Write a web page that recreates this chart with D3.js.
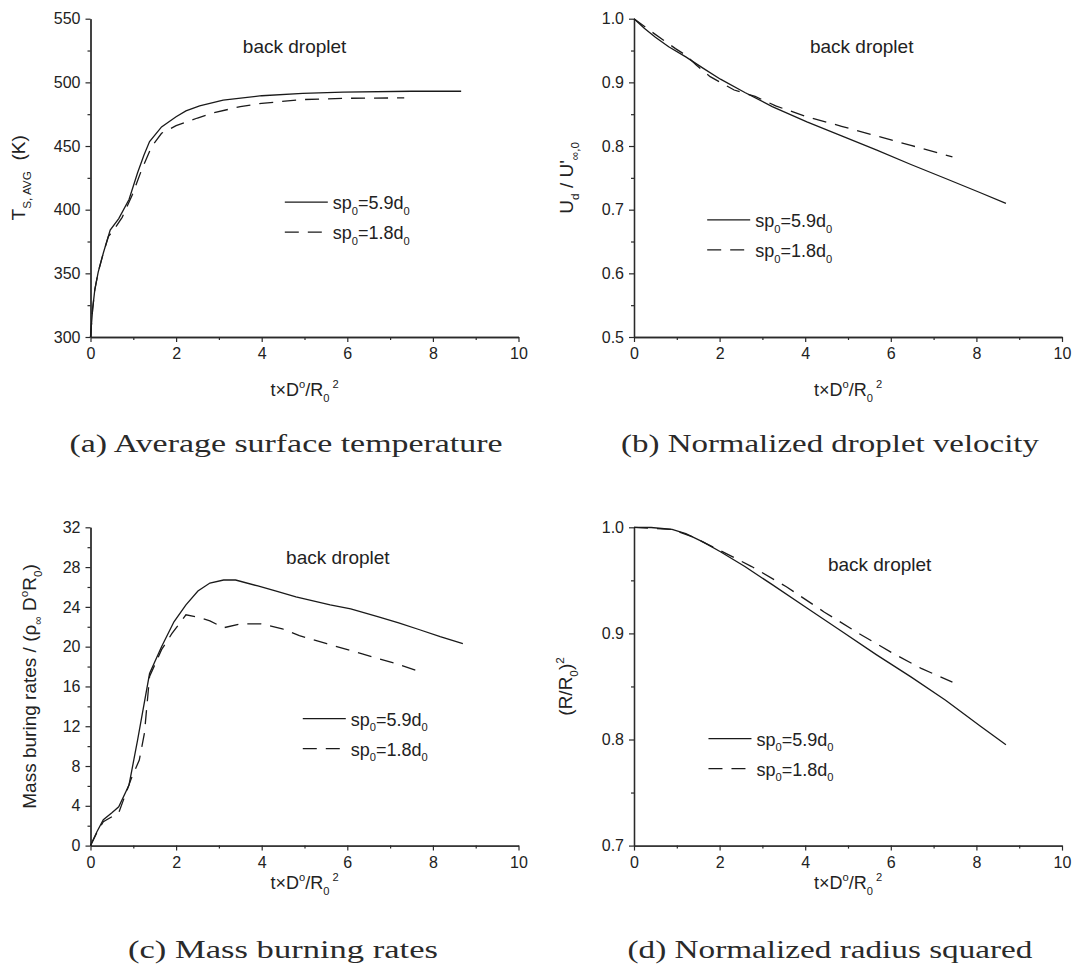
<!DOCTYPE html>
<html>
<head>
<meta charset="utf-8">
<script src="https://cdn.jsdelivr.net/npm/d3@7"></script>
<style>
  body { margin: 0; background: #fff; }
  svg { display: block; }
  text { font-family: "Liberation Sans", Arial, sans-serif; fill: #222; white-space: pre; }
  .caption { font-family: "Liberation Serif", "Times New Roman", serif; fill: #2a2a2a; }
</style>
</head>
<body>
<svg id="chart" width="1073" height="970"></svg>
<script>
// ── data (x = t×D°/R0²) ──
// (a) average surface temperature
const tA_wide = [0, 0.05, 0.1, 0.18, 0.3, 0.46, 0.66, 0.9, 1.1, 1.25, 1.38, 1.66, 2.0, 2.23, 2.55, 3.1, 4.0, 4.96, 5.9, 7.5, 8.66];
const tempA_wide = [300, 322, 337, 351, 366, 384, 393, 408, 429, 443, 453.5, 465, 473, 477.6, 481.5, 486, 489.5, 491.4, 492.3, 493, 493];
const tA_close = [0, 0.05, 0.1, 0.18, 0.3, 0.42, 0.54, 0.74, 0.98, 1.18, 1.42, 1.66, 2.0, 2.5, 2.87, 3.5, 4.0, 4.96, 6.0, 7.33];
const tempA_close = [300, 322, 337, 351, 366, 379, 384, 394, 412, 430, 449, 460, 466, 472, 476, 481, 483.5, 486.5, 487.5, 487.8];

// (b) normalized droplet velocity
const tB_wide = [0, 0.24, 0.5, 0.81, 1.21, 1.62, 2.02, 2.59, 3.23, 4.04, 4.85, 5.66, 6.47, 7.28, 8.08, 8.69];
const velB_wide = [1.0, 0.985, 0.971, 0.956, 0.94, 0.922, 0.905, 0.884, 0.862, 0.838, 0.816, 0.794, 0.771, 0.749, 0.727, 0.71];
const tB_close = [0, 0.4, 0.97, 1.2, 1.46, 1.78, 2.34, 2.83, 3.31, 4.04, 4.85, 5.66, 6.47, 7.44];
const velB_close = [1.0, 0.98, 0.953, 0.943, 0.927, 0.909, 0.888, 0.878, 0.863, 0.846, 0.831, 0.816, 0.801, 0.783];

// (c) mass burning rates
const tC_wide = [0, 0.15, 0.3, 0.5, 0.66, 0.9, 1.1, 1.38, 1.66, 1.95, 2.23, 2.51, 2.79, 3.11, 3.39, 3.91, 4.32, 4.8, 5.6, 6.08, 6.73, 7.2, 7.69, 8.17, 8.7];
const massC_wide = [0, 1.4, 2.6, 3.3, 3.9, 6.1, 10.6, 17.3, 20, 22.5, 24.2, 25.6, 26.4, 26.7, 26.7, 26.1, 25.6, 25, 24.2, 23.8, 23, 22.4, 21.7, 21, 20.3];
const tC_close = [0, 0.15, 0.3, 0.5, 0.66, 0.94, 1.14, 1.26, 1.38, 1.66, 1.9, 2.23, 2.47, 2.79, 3.11, 3.51, 3.99, 4.48, 4.88, 5.52, 6.33, 7.13, 7.61];
const massC_close = [0, 1.3, 2.4, 2.9, 3.3, 6.6, 8.6, 11.3, 17, 19.7, 21.3, 23.2, 23, 22.6, 21.9, 22.3, 22.3, 21.8, 21.1, 20.3, 19.3, 18.3, 17.6];

// (d) normalized radius squared
const tD_wide = [0, 0.4, 0.89, 1.21, 1.62, 2.02, 2.59, 3.23, 4.04, 4.85, 5.66, 6.47, 7.28, 8.08, 8.69];
const radD_wide = [1.0, 0.9998, 0.998, 0.994, 0.986, 0.977, 0.963, 0.946, 0.924, 0.902, 0.88, 0.859, 0.837, 0.813, 0.795];
const tD_close = [0, 0.89, 1.37, 2.02, 2.75, 3.56, 4.45, 5.25, 6.06, 6.71, 7.44];
const radD_close = [1.0, 0.998, 0.991, 0.978, 0.963, 0.944, 0.92, 0.9, 0.881, 0.867, 0.854];

const xMajorTicks = [0, 2, 4, 6, 8, 10];
const xMinorTicks = [1, 3, 5, 7, 9];
const seriesNames = ["5.9", "1.8"];
const annotation = "back droplet";
const captions = ["(a) Average surface temperature", "(b) Normalized droplet velocity",
                  "(c) Mass burning rates", "(d) Normalized radius squared"];

// ── layout ──
const plotW = 428, plotH = 318.3;
const svg = d3.select("#chart");

// text with sub/superscripts: parts = [text, "sub"|"sup"|"", dx]
function richText(sel, parts, fs) {
  let shift = 0;
  parts.forEach(([str, mode, dx]) => {
    const target = mode === "sub" ? fs * 0.32 : mode === "sup" ? -fs * 0.42 : 0;
    const t = sel.append("tspan").text(str)
      .attr("dy", target - shift)
      .style("font-size", (mode ? fs * 0.62 : fs) + "px");
    if (dx) t.attr("dx", dx);
    shift = target;
  });
  return sel;
}

const panels = [
  { left: 90.5, top: 18.7, yDomain: [300, 550], yMajor: d3.range(300, 551, 50), yMinor: d3.range(325, 550, 50),
    fmt: d3.format("d"), wide: [tA_wide, tempA_wide], close: [tA_close, tempA_close],
    yTitle: [["T", ""], ["S, AVG", "sub"], ["  (K)", ""]], yTitleX: 25,
    note: [3.56, 523.4], legend: [4.54, 406], xTitleY: 396,
    caption: captions[0], capX: 286, capY: 452, capW: 433 },
  { left: 634, top: 18.7, yDomain: [0.5, 1.0], yMajor: d3.range(0.5, 1.01, 0.1), yMinor: d3.range(0.55, 1.0, 0.1),
    fmt: d3.format(".1f"), wide: [tB_wide, velB_wide], close: [tB_close, velB_close],
    yTitle: [["U", ""], ["d", "sub"], [" / U'", ""], ["\u221e,0", "sub"]], yTitleX: 573,
    note: [4.11, 0.946], legend: [1.71, 0.684], xTitleY: 396,
    caption: captions[1], capX: 830, capY: 452, capW: 418 },
  { left: 90.5, top: 527.3, yDomain: [0, 32], yMajor: d3.range(0, 33, 4), yMinor: d3.range(2, 32, 4),
    fmt: d3.format("d"), wide: [tC_wide, massC_wide], close: [tC_close, massC_close],
    yTitle: [["Mass buring rates / (\u03c1", ""], ["\u221e", "sub"], [" D", ""], ["o", "sup"], ["R", ""], ["0", "sub"], [")", ""]], yTitleX: 36,
    note: [4.57, 28.3], legend: [4.96, 12.77], xTitleY: 889,
    caption: captions[2], capX: 283, capY: 958, capW: 310 },
  { left: 634, top: 527.3, yDomain: [0.7, 1.0], yMajor: d3.range(0.7, 1.01, 0.1), yMinor: d3.range(0.75, 1.0, 0.1),
    fmt: d3.format(".1f"), wide: [tD_wide, radD_wide], close: [tD_close, radD_close],
    yTitle: [["(R/R", ""], ["0", "sub"], [")", ""], ["2", "sup"]], yTitleX: 572,
    note: [4.53, 0.959], legend: [1.74, 0.8008], xTitleY: 889,
    caption: captions[3], capX: 830, capY: 958, capW: 405 }
];

const line = (x, y) => d3.line().x((d) => x(d[0])).y((d) => y(d[1]));
const dashes = "14,9";

panels.forEach((p) => {
  const x = d3.scaleLinear().domain([0, 10]).range([p.left, p.left + plotW]);
  const y = d3.scaleLinear().domain(p.yDomain).range([p.top + plotH, p.top]);
  const g = svg.append("g");
  const bottom = p.top + plotH;

  // axes: minor ticks first, then major ticks with labels
  const styleAxis = (a) => {
    a.select(".domain").attr("stroke", "#2a2a2a").attr("stroke-width", 1.3);
    a.selectAll(".tick line").attr("stroke", "#2a2a2a").attr("stroke-width", 1.2);
    a.selectAll(".tick text").style("font-size", "16px").attr("fill", "#222");
  };
  g.append("g").attr("transform", `translate(0,${bottom})`)
    .call(d3.axisBottom(x).tickValues(xMinorTicks).tickSize(3).tickSizeOuter(0).tickFormat(""))
    .call(styleAxis);
  g.append("g").attr("transform", `translate(0,${bottom})`)
    .call(d3.axisBottom(x).tickValues(xMajorTicks).tickSize(5).tickSizeOuter(0).tickPadding(6))
    .call(styleAxis);
  g.append("g").attr("transform", `translate(${p.left},0)`)
    .call(d3.axisLeft(y).tickValues(p.yMinor).tickSize(3).tickSizeOuter(0).tickFormat(""))
    .call(styleAxis);
  g.append("g").attr("transform", `translate(${p.left},0)`)
    .call(d3.axisLeft(y).tickValues(p.yMajor).tickSize(5).tickSizeOuter(0).tickPadding(5).tickFormat(p.fmt))
    .call(styleAxis);
  g.selectAll(".tick text").attr("font-family", null);

  // curves
  const wideData = d3.zip(p.wide[0], p.wide[1]);
  const closeData = d3.zip(p.close[0], p.close[1]);
  g.append("path").datum(wideData).attr("d", line(x, y))
    .attr("fill", "none").attr("stroke", "#1a1a1a").attr("stroke-width", 1.3);
  g.append("path").datum(closeData).attr("d", line(x, y))
    .attr("fill", "none").attr("stroke", "#1a1a1a").attr("stroke-width", 1.3)
    .attr("stroke-dasharray", dashes);

  // annotation
  g.append("text").attr("x", x(p.note[0])).attr("y", y(p.note[1]))
    .style("font-size", "19px").text(annotation);

  // legend
  const lx = x(p.legend[0]), ly = y(p.legend[1]);
  seriesNames.forEach((name, i) => {
    const yy = ly + i * 30;
    g.append("line").attr("x1", lx).attr("x2", lx + 43).attr("y1", yy).attr("y2", yy)
      .attr("stroke", "#1a1a1a").attr("stroke-width", 1.3)
      .attr("stroke-dasharray", i === 1 ? dashes : null);
    richText(g.append("text").attr("x", lx + 48).attr("y", yy + 7),
      [["sp", ""], ["0", "sub"], ["=" + name + "d", ""], ["0", "sub"]], 18);
  });

  // x title
  richText(g.append("text").attr("x", p.left + plotW / 2 - 34).attr("y", p.xTitleY),
    [["t\u00d7D", ""], ["o", "sup"], ["/R", ""], ["0", "sub"], ["2", "sup", 3]], 18);

  // y title
  richText(g.append("text")
      .attr("transform", `translate(${p.yTitleX},${p.top + plotH / 2}) rotate(-90)`)
      .attr("text-anchor", "middle"),
    p.yTitle, 19);

  // caption
  svg.append("text").attr("class", "caption")
    .attr("x", p.capX - p.capW / 2).attr("y", p.capY)
    .attr("textLength", p.capW).attr("lengthAdjust", "spacingAndGlyphs")
    .style("font-size", "26px").text(p.caption);
});
</script>
</body>
</html>
